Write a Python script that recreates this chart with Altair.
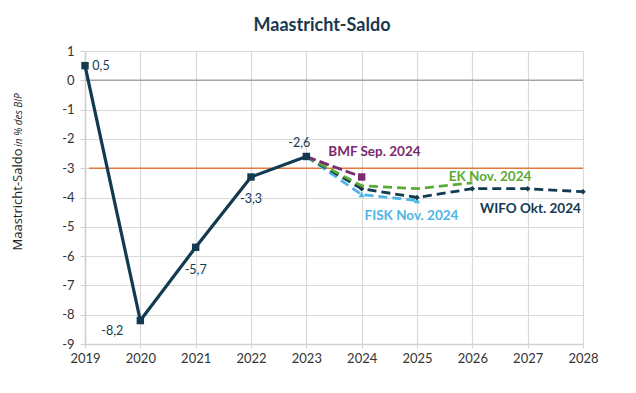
import altair as alt
import pandas as pd

# ---- data ----
actual_years = [2019, 2020, 2021, 2022, 2023]
actual_vals = [0.5, -8.2, -5.7, -3.3, -2.6]

wifo_years = [2023, 2024, 2025, 2026, 2027, 2028]
wifo_vals = [-2.6, -3.7, -4.0, -3.7, -3.7, -3.8]

ek_years = [2023, 2024, 2025, 2026]
ek_vals = [-2.6, -3.6, -3.7, -3.5]

fisk_years = [2023, 2024, 2025]
fisk_vals = [-2.6, -3.9, -4.1]

bmf_years = [2023, 2024]
bmf_vals = [-2.6, -3.3]

maastricht_limit = -3

NAVY = "#123a50"
GREEN = "#5aab35"
LBLUE = "#4fb4e6"
PURPLE = "#7b2a6f"
ORANGE = "#e07a3e"
FONT = "Lato"

x_scale = alt.Scale(domain=[2019, 2028], nice=False, zero=False)
y_scale = alt.Scale(domain=[-9, 1], nice=False, zero=False)

x_axis = alt.Axis(values=list(range(2019, 2029)), format="d", labelFlush=False,
                  labelFont=FONT, labelFontSize=13, labelColor="#333333",
                  gridColor="#d9d9d9", gridWidth=1.2, domainColor="#d0d0d0",
                  tickColor="#d0d0d0", tickSize=4, labelPadding=4, domainWidth=1.5)
y_axis = alt.Axis(values=list(range(-9, 2)), labelExpr="'' + datum.value", labelFlush=False,
                  labelFont=FONT, labelFontSize=13, labelColor="#333333",
                  gridColor="#d9d9d9", gridWidth=1.2, domainColor="#d0d0d0",
                  tickColor="#d0d0d0", tickSize=5, labelPadding=6, domainWidth=1.5,
                  titleFont="Open Sans", titleFontSize=13, titleFontWeight="normal",
                  titleColor="#222222", titlePadding=37, titleY=148, titleAngle=270,
                  titleAlign="center")

X = alt.X("year:Q", scale=x_scale, axis=x_axis, title=None)
Y = alt.Y("value:Q", scale=y_scale, axis=y_axis, title="Maastricht-Saldo")


def df(years, vals):
    return pd.DataFrame({"year": years, "value": vals})


actual_df = df(actual_years, actual_vals)
actual_df["label"] = [f"{v:.1f}".replace(".", ",") for v in actual_vals]

zero_rule = alt.Chart(pd.DataFrame({"value": [0]})).mark_rule(
    color="#a6a6a6", strokeWidth=1.5).encode(y=Y, x=alt.value(0), x2=alt.value(498))

limit_rule = alt.Chart(pd.DataFrame({"value": [maastricht_limit]})).mark_rule(
    color=ORANGE, strokeWidth=1.6).encode(y=Y, x=alt.value(4), x2=alt.value(498))


def dashed(years, vals, color, shape=None, size=30, dash=(9, 5)):
    base = alt.Chart(df(years, vals))
    line = base.mark_line(color=color, strokeWidth=2.8, strokeDash=list(dash)).encode(x=X, y=Y)
    if shape is None:
        return [line]
    pts = base.transform_filter("datum.year > 2023").mark_point(
        shape=shape, filled=True, color=color, size=size, opacity=1).encode(x=X, y=Y)
    return [line, pts]


fisk = dashed(fisk_years, fisk_vals, LBLUE, "triangle-up", 40)
wifo = dashed(wifo_years, wifo_vals, NAVY, "diamond", 30)
ek = dashed(ek_years, ek_vals, GREEN)
bmf = dashed(bmf_years, bmf_vals, PURPLE, "square", 55, dash=(10, 4))

act_base = alt.Chart(actual_df)
act_line = act_base.mark_line(color=NAVY, strokeWidth=3.2).encode(x=X, y=Y)
act_pts = act_base.mark_point(shape="square", filled=True, color=NAVY, size=55,
                              opacity=1).encode(x=X, y=Y)

# data labels with per-point offsets
lbl_dx = [16, -28, 0, 0, -7]
lbl_dy = [0, 10, 23, 22, -13]
label_layers = []
for i in range(len(actual_years)):
    label_layers.append(
        alt.Chart(actual_df.iloc[[i]]).mark_text(
            font=FONT, fontSize=12.5, color=NAVY, dx=lbl_dx[i], dy=lbl_dy[i]
        ).encode(x=X, y=Y, text="label:N")
    )

# series labels
series_names = ["BMF Sep. 2024", "EK Nov. 2024", "FISK Nov. 2024", "WIFO Okt. 2024"]
series_x = [2024.23, 2026.32, 2024.9, 2027.05]
series_y = [-2.46, -3.31, -4.64, -4.40]
series_colors = [PURPLE, GREEN, LBLUE, NAVY]
series_layers = []
for n, sx, sy, c in zip(series_names, series_x, series_y, series_colors):
    series_layers.append(
        alt.Chart(pd.DataFrame({"year": [sx], "value": [sy], "t": [n]})).mark_text(
            font=FONT, fontSize=13.5, fontWeight="bold", color=c
        ).encode(x=X, y=Y, text="t:N")
    )

# italic part of y title
ytitle2 = alt.Chart(pd.DataFrame({"t": ["in % des BIP"]})).mark_text(
    font="Open Sans", fontSize=10, fontStyle="italic", color="#222222", angle=270,
    align="center", baseline="middle"
).encode(x=alt.value(-66), y=alt.value(69), text="t:N")

chart = alt.layer(
    zero_rule, limit_rule, *fisk, *wifo, *ek, *bmf, act_line, act_pts,
    *label_layers, *series_layers, ytitle2
).properties(
    width=498, height=293,
    title=alt.TitleParams("Maastricht-Saldo", font=FONT, fontSize=18, fontWeight="bold",
                          color="#17384f", anchor="middle", offset=10, dx=-12),
    autosize=alt.AutoSizeParams(type="none"),
    padding={"left": 77, "top": 43, "right": 45, "bottom": 40},
).configure_view(stroke=None)

chart.save("out.html", embed_options={"renderer": "svg", "actions": False})
